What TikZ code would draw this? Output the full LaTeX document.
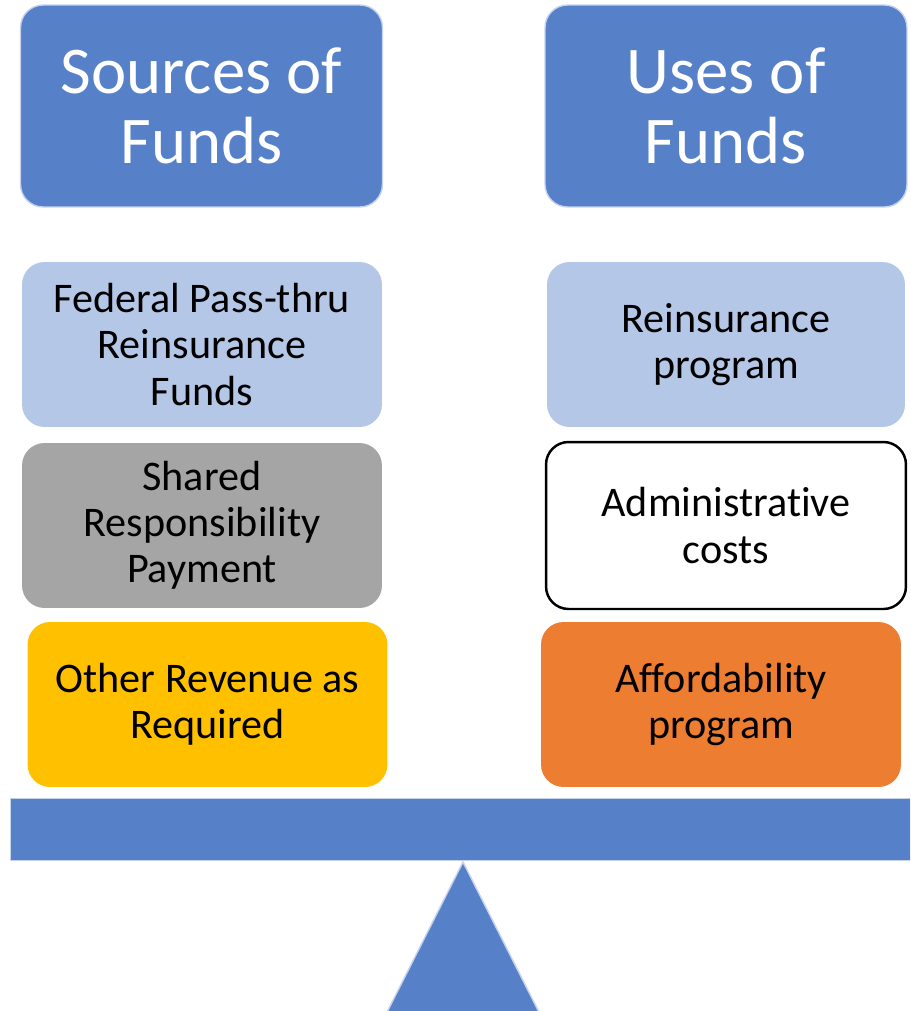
\documentclass[tikz,border=0pt]{standalone}
\usepackage{fontspec}
\setmainfont{Carlito}[Ligatures={NoCommon,NoContextual}]
\usepackage{tikz}
\usetikzlibrary{positioning}
\definecolor{headblue}{RGB}{86,129,201}
\definecolor{edgeblue}{RGB}{196,210,236}
\definecolor{paleblue}{RGB}{180,199,231}
\definecolor{midgray}{RGB}{165,165,165}
\definecolor{goldyellow}{RGB}{255,192,0}
\definecolor{burntorange}{RGB}{237,125,49}

\begin{document}
\begin{tikzpicture}[
    x=0.02cm, y=-0.02cm,
    head/.style={draw=edgeblue, line width=0.8pt, fill=headblue, rounded corners=0.45cm,
        text=white, align=center, minimum width=7.24cm, minimum height=4.04cm,
        font=\fontsize{38}{39.5}\selectfont},
    item/.style={rounded corners=0.45cm, align=center, minimum width=7.2cm,
        minimum height=3.3cm, font=\fontsize{24}{26.2}\selectfont},
]
    \useasboundingbox (0,0) rectangle (910,1011);
    \clip (0,0) rectangle (910,1011);

    % Headings
    \node[head] (src) at (201.5,106) {Sources of\\Funds};
    \node[head] (use) at (726,106) {Uses of\\Funds};

    % Sources column
    \node[item, fill=paleblue] (fed) at (202,344.5) {Federal Pass-thru\\Reinsurance\\Funds};
    \node[item, fill=midgray] (srp) at (202,525.5) {Shared\\Responsibility\\Payment};
    \node[item, fill=goldyellow] (other) at (207.5,704.5) {Other Revenue as\\Required};

    % Uses column
    \node[item, fill=paleblue, minimum width=7.16cm] (rein) at (726,344.5) {Reinsurance\\program};
    \node[item, draw=black, line width=1.4pt, minimum width=7.2cm, minimum height=3.34cm]
        (admin) at (726,525.5) {Administrative\\costs};
    \node[item, fill=burntorange] (afford) at (721,704.5) {Affordability\\program};

    % Balance beam and fulcrum
    \node[draw=edgeblue, line width=0.8pt, fill=headblue, minimum width=18.2cm,
        minimum height=1.24cm, inner sep=0pt, anchor=north west] (beam) at (10,798) {};
    \coordinate (tip) at (463,862);
    \draw[draw=edgeblue, line width=0.8pt, fill=headblue]
        (tip) -- (380,1026) -- (546,1026) -- cycle;
\end{tikzpicture}
\end{document}
